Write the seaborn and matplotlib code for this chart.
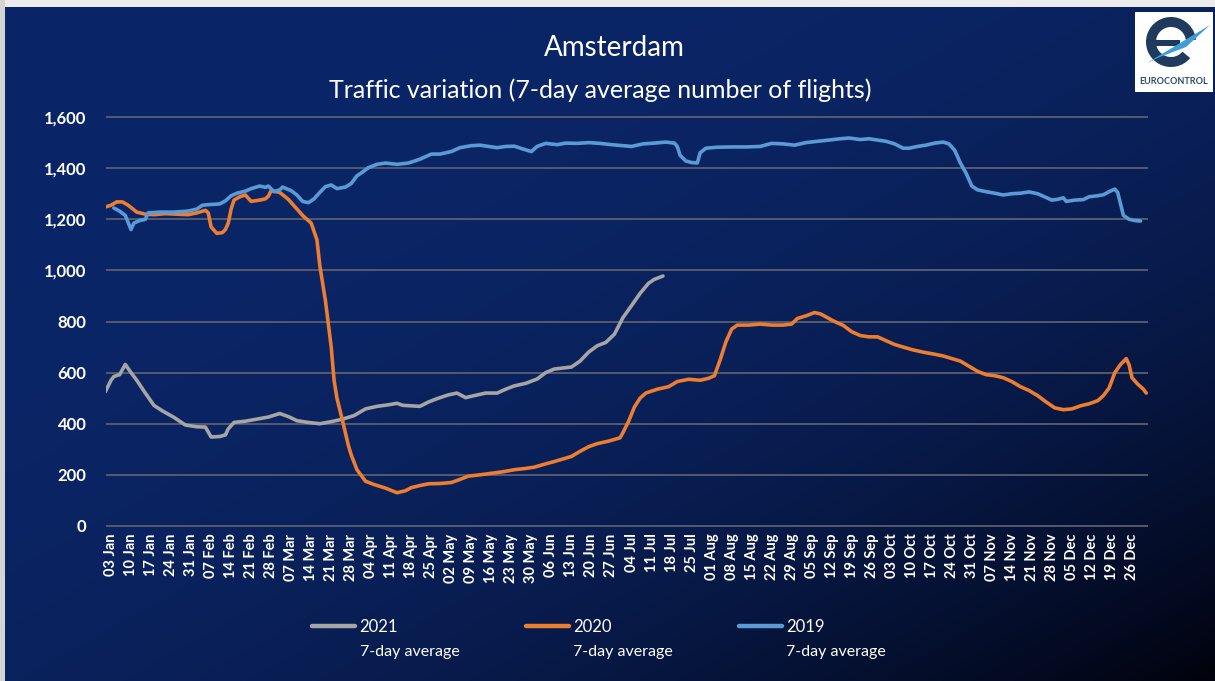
import numpy as np
import pandas as pd
import matplotlib
matplotlib.use('Agg')
import matplotlib.pyplot as plt
from matplotlib.patches import Rectangle, Wedge, Polygon
import seaborn as sns

# Amsterdam, 7-day average number of flights, x = day of year
days_2021 = [1, 3, 4, 6, 8, 10, 12, 15, 18, 21,
             25, 29, 33, 36, 38, 41, 43, 44, 46, 50,
             54, 58, 62, 65, 68, 72, 76, 80, 84, 88,
             92, 96, 100, 103, 105, 108, 111, 114, 117, 121,
             124, 127, 130, 134, 138, 141, 144, 148, 152, 155,
             158, 161, 164, 167, 170, 173, 176, 179, 182, 185,
             188, 191, 193, 196]
flights_2021 = [525, 570, 585, 592, 632, 600, 570, 520, 472, 450,
                425, 395, 388, 387, 348, 350, 356, 380, 405, 410,
                418, 426, 440, 428, 412, 405, 400, 408, 418, 432,
                458, 468, 474, 480, 472, 470, 468, 485, 498, 513,
                520, 502, 510, 520, 520, 535, 548, 558, 575, 600,
                614, 618, 622, 645, 680, 705, 718, 750, 815, 862,
                910, 950, 965, 978]

days_2020 = [1, 3, 5, 7, 9, 12, 15, 18, 22, 26,
             30, 33, 36, 37, 38, 40, 42, 43, 44, 45,
             46, 48, 50, 52, 55, 57, 58, 59, 62, 65,
             68, 70, 73, 75, 76, 78, 80, 81, 82, 84,
             86, 87, 89, 92, 95, 99, 103, 106, 108, 111,
             114, 118, 122, 125, 128, 132, 136, 140, 144, 148,
             151, 155, 158, 161, 164, 167, 170, 173, 177, 181,
             182, 184, 186, 188, 190, 194, 198, 201, 205, 209,
             212, 214, 216, 218, 220, 222, 226, 230, 234, 238,
             241, 243, 246, 249, 251, 253, 256, 259, 262, 265,
             268, 271, 274, 277, 280, 283, 287, 291, 294, 297,
             300, 303, 306, 309, 312, 315, 318, 321, 324, 327,
             330, 333, 336, 339, 342, 345, 348, 350, 352, 354,
             356, 358, 359, 360, 362, 364, 365]
flights_2020 = [1248, 1255, 1268, 1268, 1255, 1228, 1220, 1218, 1222, 1220,
                1218, 1225, 1235, 1225, 1170, 1145, 1148, 1160, 1185, 1240,
                1275, 1288, 1295, 1270, 1275, 1280, 1290, 1312, 1305, 1278,
                1240, 1215, 1185, 1120, 1020, 880, 700, 570, 500, 410,
                315, 278, 220, 175, 162, 148, 130, 138, 150, 158,
                165, 166, 170, 182, 195, 200, 206, 212, 220, 225,
                230, 243, 252, 262, 272, 292, 310, 322, 332, 345,
                365, 410, 465, 500, 520, 535, 545, 565, 574, 570,
                578, 588, 650, 720, 770, 786, 786, 790, 786, 786,
                790, 812, 822, 835, 830, 818, 800, 785, 760, 745,
                740, 740, 725, 710, 700, 690, 680, 672, 665, 655,
                645, 625, 605, 592, 588, 580, 565, 545, 530, 510,
                485, 462, 455, 458, 470, 478, 490, 510, 540, 600,
                632, 655, 630, 580, 555, 535, 520]

days_2019 = [4, 6, 8, 10, 11, 13, 15, 16, 20, 25,
             30, 33, 35, 38, 41, 43, 45, 47, 50, 52,
             55, 57, 58, 60, 62, 63, 66, 68, 70, 72,
             74, 76, 78, 80, 82, 85, 87, 89, 91, 93,
             96, 99, 103, 107, 111, 115, 118, 122, 125, 129,
             132, 135, 138, 141, 144, 147, 150, 152, 155, 159,
             162, 166, 170, 174, 178, 182, 185, 189, 193, 197,
             200, 201, 202, 204, 206, 208, 209, 211, 215, 220,
             225, 230, 234, 238, 242, 246, 250, 254, 258, 261,
             265, 268, 271, 274, 277, 280, 282, 285, 288, 291,
             294, 296, 298, 300, 302, 304, 306, 309, 312, 315,
             318, 321, 324, 327, 330, 332, 334, 336, 337, 340,
             343, 345, 348, 350, 352, 354, 355, 356, 357, 359,
             361, 363]
flights_2019 = [1244, 1232, 1215, 1160, 1185, 1195, 1200, 1225, 1228, 1228,
                1232, 1240, 1255, 1258, 1260, 1272, 1292, 1302, 1310, 1320,
                1330, 1325, 1330, 1308, 1315, 1326, 1312, 1295, 1270, 1265,
                1280, 1305, 1328, 1334, 1320, 1326, 1340, 1370, 1385, 1402,
                1415, 1420, 1415, 1420, 1435, 1455, 1455, 1465, 1480, 1488,
                1490, 1485, 1480, 1485, 1486, 1475, 1465, 1485, 1497, 1492,
                1498, 1497, 1500, 1497, 1492, 1488, 1485, 1495, 1498, 1502,
                1498, 1485, 1450, 1428, 1422, 1420, 1460, 1478, 1482, 1483,
                1483, 1485, 1497, 1495, 1490, 1500, 1505, 1510, 1515, 1518,
                1512, 1515, 1510, 1505, 1495, 1478, 1478, 1485, 1490, 1498,
                1502, 1495, 1470, 1420, 1380, 1330, 1315, 1308, 1302, 1295,
                1300, 1302, 1307, 1300, 1285, 1275, 1278, 1284, 1270, 1275,
                1277, 1288, 1292, 1296, 1308, 1318, 1305, 1260, 1215, 1200,
                1195, 1193]

series_names = ['2021', '2020', '2019']
series_colors = ['#a5a5a5', '#ed7d31', '#5b9bd5']

week_labels = ['03 Jan', '10 Jan', '17 Jan', '24 Jan', '31 Jan', '07 Feb', '14 Feb',
               '21 Feb', '28 Feb', '07 Mar', '14 Mar', '21 Mar', '28 Mar', '04 Apr',
               '11 Apr', '18 Apr', '25 Apr', '02 May', '09 May', '16 May', '23 May',
               '30 May', '06 Jun', '13 Jun', '20 Jun', '27 Jun', '04 Jul', '11 Jul',
               '18 Jul', '25 Jul', '01 Aug', '08 Aug', '15 Aug', '22 Aug', '29 Aug',
               '05 Sep', '12 Sep', '19 Sep', '26 Sep', '03 Oct', '10 Oct', '17 Oct',
               '24 Oct', '31 Oct', '07 Nov', '14 Nov', '21 Nov', '28 Nov', '05 Dec',
               '12 Dec', '19 Dec', '26 Dec']
y_ticks = [0, 200, 400, 600, 800, 1000, 1200, 1400, 1600]

df = pd.concat([
    pd.DataFrame({'day': days_2021, 'flights': flights_2021, 'series': '2021'}),
    pd.DataFrame({'day': days_2020, 'flights': flights_2020, 'series': '2020'}),
    pd.DataFrame({'day': days_2019, 'flights': flights_2019, 'series': '2019'}),
])

W, H = 1215, 681
sns.set_theme(style='white')
plt.rcParams['font.family'] = ['Lato', 'DejaVu Sans']

fig = plt.figure(figsize=(W / 100, H / 100), dpi=100)

# background: navy fading to near black in the bottom right corner
bg = fig.add_axes([0, 0, 1, 1], zorder=-10)
yy, xx = np.mgrid[0:1:H * 1j, 0:1:W * 1j]
t = (((xx + yy) / 2) ** 3)[..., None]
c0 = np.array([11, 38, 104]) / 255
c1 = np.array([1, 2, 12]) / 255
bg.imshow(c0 + (c1 - c0) * t, extent=[0, 1, 0, 1], aspect='auto')
bg.axis('off')

# plot area (pixel box 106..1148 x 115..528)
ax = fig.add_axes([106 / W, (H - 528) / H, (1148 - 106) / W, (528 - 115) / H])
ax.set_facecolor('none')
sns.lineplot(data=df, x='day', y='flights', hue='series', hue_order=series_names,
             palette=dict(zip(series_names, series_colors)), estimator=None,
             linewidth=2.6, legend=False, ax=ax)

ax.set_xlim(1.25, 365.6)
ax.set_ylim(-8, 1608)
ax.set_xticks(np.arange(3, 361, 7))
ax.set_xticklabels(week_labels, rotation=90, fontsize=10.5, fontweight='bold', color='white')
ax.set_yticks(y_ticks)
ax.set_yticklabels([f'{v:,}' for v in y_ticks], fontsize=12, fontweight='bold', color='white')
ax.tick_params(axis='x', length=0, pad=4)
ax.tick_params(axis='y', length=0, pad=14)
ax.set_xlabel('')
ax.set_ylabel('')
ax.yaxis.grid(True, color='#5a5f70', linewidth=1.3)
ax.xaxis.grid(False)
ax.set_axisbelow(True)
sns.despine(ax=ax, left=True, bottom=True)

# titles
fig.text(614 / W, 1 - 48 / H, 'Amsterdam', ha='center', va='center', fontsize=20, color='white')
fig.text(600 / W, 1 - 90 / H, 'Traffic variation (7-day average number of flights)',
         ha='center', va='center', fontsize=18, color='white')

# legend
handles = ax.get_lines()[:3]
leg = ax.legend(handles, series_names, ncol=3, loc='center left',
                bbox_to_anchor=(312 / W, 1 - 627 / H), bbox_transform=fig.transFigure,
                frameon=False, fontsize=12, handlelength=2.6, handletextpad=0.25,
                columnspacing=7.65, borderpad=0, borderaxespad=0, labelcolor='white')
for h in leg.legend_handles:
    h.set_linewidth(3.2)
fig.canvas.draw()
for txt in leg.get_texts():
    bb = txt.get_window_extent()
    fig.text(bb.x0 / W, 1 - 652 / H, '7-day average', ha='left', va='center',
             fontsize=11.5, color='white')

# border strips and logo, in pixel coordinates
lg = fig.add_axes([0, 0, 1, 1], zorder=5)
lg.set_xlim(0, W)
lg.set_ylim(0, H)
lg.axis('off')
lg.add_patch(Rectangle((0, H - 7), W, 7, fc='#ececec', ec='none'))
lg.add_patch(Rectangle((0, 0), 5, H, fc='#d4d4d4', ec='none'))
lg.add_patch(Rectangle((1135, H - 92), 78, 80, fc='white', ec='none'))
lg.add_patch(Wedge((1171, H - 42), 25, 5, 320, width=10, fc='#1f3a5c', ec='none'))
lg.add_patch(Rectangle((1150, H - 46), 30, 6, fc='#1f3a5c', ec='none'))
lg.add_patch(Polygon([(1147, H - 63), (1210, H - 25), (1186, H - 47), (1160, H - 57)],
                     closed=True, fc='#3d9fd6', ec='none'))
lg.text(1174, H - 82, 'EUROCONTROL', ha='center', va='center', fontsize=6.5,
        fontweight='bold', color='#2d4a6b')

fig.savefig('out.png', dpi=100)
